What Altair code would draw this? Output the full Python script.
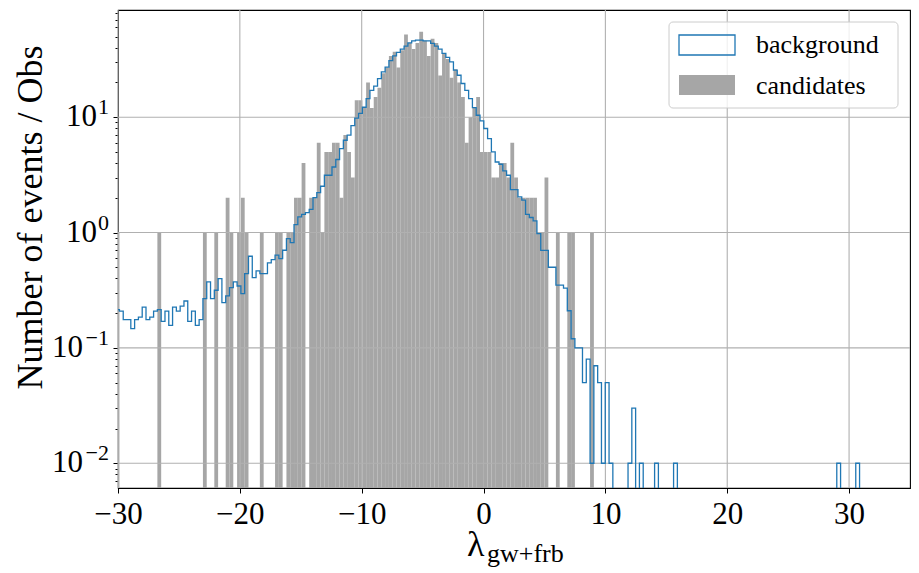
import altair as alt
import pandas as pd

# ---------------- data ----------------
BIN_START = -31.44      # left edge of the first histogram bin
BIN_WIDTH = 0.3115      # common bin width of both histograms

# background: events per observation, one value per bin (200 bins)
background = [
    0.19, 0.20, 0.21, 0.20, 0.215, 0.208, 0.176, 0.176, 0.147, 0.176,
    0.185, 0.226, 0.176, 0.185, 0.208, 0.215, 0.170, 0.208, 0.157, 0.226,
    0.208, 0.23, 0.255, 0.170, 0.208, 0.157, 0.176, 0.267, 0.373, 0.267,
    0.316, 0.399, 0.247, 0.282, 0.333, 0.373, 0.344, 0.296, 0.441, 0.623,
    0.407, 0.465, 0.441, 0.441, 0.545, 0.583, 0.636, 0.595, 0.702, 0.887,
    0.819, 1.17, 1.365, 1.44, 1.49, 1.59, 2.01, 2.22, 2.52, 3.14,
    3.14, 3.7, 4.3, 5.35, 6.31, 6.98, 8.45, 9.8, 10.8, 12.2,
    14.5, 17.1, 18.6, 21.6, 24.7, 27.2, 31.0, 34.0, 36.5, 38.9,
    41.3, 44.1, 45.9, 46.5, 46.5, 45.9, 45.9, 43.6, 41.3, 38.9,
    35.7, 33.0, 30.2, 25.6, 23.1, 19.6, 17.1, 14.5, 12.1, 10.4,
    9.29, 7.98, 6.53, 5.0, 4.09, 3.91, 3.42, 3.14, 2.36, 2.36,
    2.04, 1.91, 1.44, 1.35, 1.26, 0.98, 0.70, 0.70, 0.50, 0.50,
    0.35, 0.35, 0.33, 0.21, 0.12, 0.10, 0.10, 0.05, 0.08, 0.01,
    0.07, 0.05, 0.01, 0.05, 0.01, 0, 0, 0, 0, 0.01,
    0.03, 0, 0.01, 0, 0, 0, 0.01, 0, 0, 0,
    0, 0.01, 0, 0, 0, 0, 0, 0, 0, 0,
    0, 0, 0, 0, 0, 0, 0, 0, 0, 0,
    0, 0, 0, 0, 0, 0, 0, 0, 0, 0,
    0, 0, 0, 0, 0, 0, 0, 0, 0, 0,
    0, 0, 0, 0, 0.01, 0, 0, 0, 0, 0.01,
]

# candidates: counts per bin (same 200 bins)
candidates = [
    0, 0, 0, 0, 1, 0, 0, 0, 0, 0,
    0, 0, 0, 0, 0, 1, 0, 0, 0, 0,
    0, 0, 0, 0, 0, 0, 0, 1, 0, 0,
    1, 0, 0, 2, 1, 0, 1, 2, 1, 0,
    0, 0, 1, 0, 0, 0, 1, 1, 0, 1,
    1, 2, 2, 4, 0, 2, 2, 6, 1, 5,
    5, 6, 6, 2, 7, 5, 3, 14, 14, 12,
    20, 12, 15, 18, 24, 27, 34, 37, 27, 38,
    52, 44, 39, 44, 55, 46, 34, 48, 44, 23,
    36, 32, 22, 26, 20, 15, 6, 10, 12, 15,
    5, 5, 5, 3, 3, 4, 4, 3, 6, 3,
    2, 2, 2, 2, 2, 1, 1, 3, 0, 0,
    1, 0, 0, 1, 1, 0, 0, 0, 0, 1,
    0, 0, 0, 0, 0, 0, 0, 0, 0, 0,
    0, 0, 0, 0, 0, 0, 0, 0, 0, 0,
    0, 0, 0, 0, 0, 0, 0, 0, 0, 0,
    0, 0, 0, 0, 0, 0, 0, 0, 0, 0,
    0, 0, 0, 0, 0, 0, 0, 0, 0, 0,
    0, 0, 0, 0, 0, 0, 0, 0, 0, 0,
    0, 0, 0, 0, 0, 0, 0, 0, 0, 0,
]

x_ticks = [-30, -20, -10, 0, 10, 20, 30]
x_labels = ["\u221230", "\u221220", "\u221210", "0", "10", "20", "30"]
y_major = [0.01, 0.1, 1, 10]
y_exponents = ["\u22122", "\u22121", "0", "1"]
legend_labels = ["background", "candidates"]
X_DOMAIN = [-30, 35]
Y_DOMAIN = [0.0061, 85]

# ---------------- derived tables ----------------
FLOOR = 1e-4  # empty bins fall below the visible log range
n = len(background)
edges = [BIN_START + i * BIN_WIDTH for i in range(n + 1)]

bars = pd.DataFrame([
    {"x": edges[i], "x2": edges[i + 1], "count": c, "base": 1e-3}
    for i, c in enumerate(candidates) if c > 0
])

pts = [{"x": edges[0], "v": FLOOR, "o": 0}]
for i, v in enumerate(background):
    pts.append({"x": edges[i], "v": v if v > 0 else FLOOR, "o": i + 1})
last = background[-1] if background[-1] > 0 else FLOOR
pts.append({"x": edges[n], "v": last, "o": n + 1})
pts.append({"x": edges[n], "v": FLOOR, "o": n + 2})
step = pd.DataFrame(pts)

minor = sorted({round(m * 10.0 ** e, 6) for e in range(-3, 2) for m in range(2, 10)})
minor = [v for v in minor if Y_DOMAIN[0] <= v <= Y_DOMAIN[1]]
y_values = sorted(y_major + minor)

FONT = "Liberation Serif"
GRID = "#b0b0b0"
BLUE = "#1f77b4"
GRAY = "#a6a6a6"
LABEL_SIZE = 31
EXP_SIZE = 22

label_expr_x = " : ".join(
    f"datum.value == {v} ? '{t}'" for v, t in zip(x_ticks, x_labels)
) + " : ''"
is_major = "abs(log(datum.value)/LN10 - round(log(datum.value)/LN10)) < 1e-6"

xscale = alt.Scale(domain=X_DOMAIN, nice=False, zero=False)
yscale = alt.Scale(type="log", domain=Y_DOMAIN, nice=False)

x_axis = alt.Axis(values=x_ticks, labelExpr=label_expr_x, title=None, grid=False,
                  domain=False, tickColor="black", tickSize=5, tickWidth=1,
                  labelFont=FONT, labelFontSize=LABEL_SIZE, labelColor="black",
                  labelPadding=6, labelFlush=False)
y_axis = alt.Axis(values=y_values, labels=False,
                  title="Number of events / Obs", grid=False, domain=False,
                  tickColor="black", tickWidth=1,
                  tickSize={"condition": {"test": is_major, "value": 5}, "value": 3},
                  titleFont=FONT, titleFontSize=36, titleFontWeight="normal",
                  titleColor="black", titleX=-77, titleY=207,
                  titleBaseline="alphabetic", titleAlign="center")

bar_layer = alt.Chart(bars).mark_rect(color=GRAY, clip=True).encode(
    x=alt.X("x:Q", scale=xscale, axis=x_axis),
    x2="x2:Q",
    y=alt.Y("count:Q", scale=yscale, axis=y_axis),
    y2="base:Q",
)

vgrid = alt.Chart(pd.DataFrame({"x": x_ticks})).mark_rule(
    color=GRID, strokeWidth=1.1).encode(x=alt.X("x:Q", scale=xscale))
hgrid = alt.Chart(pd.DataFrame({"y": y_major})).mark_rule(
    color=GRID, strokeWidth=1.1).encode(y=alt.Y("y:Q", scale=yscale))

line_layer = alt.Chart(step).mark_line(
    color=BLUE, strokeWidth=1.3, interpolate="step-after", clip=True
).encode(
    x=alt.X("x:Q", scale=xscale),
    y=alt.Y("v:Q", scale=yscale),
    order="o:Q",
)

# y tick labels as "10" + raised exponent (like matplotlib's 10^k)
ylab = pd.DataFrame({"y": y_major, "exp": y_exponents})
ylab["shift"] = [-10 - 11 * len(e) - (3 if e.startswith("\u2212") else 0) for e in y_exponents]
ylab_base = alt.Chart(ylab).transform_calculate(ten="'10'")
y_ten = ylab_base.mark_text(
    font=FONT, fontSize=LABEL_SIZE, align="right", baseline="middle", color="black"
).encode(y=alt.Y("y:Q", scale=yscale), x=alt.X("shift:Q", scale=None), text="ten:N")
y_exp = ylab_base.mark_text(
    font=FONT, fontSize=EXP_SIZE, align="right", baseline="middle", color="black",
    dy=-10
).encode(y=alt.Y("y:Q", scale=yscale), x=alt.value(-9), text="exp:N")

one = pd.DataFrame({"a": [0]})
leg_frame = alt.Chart(one).mark_rect(
    fill="white", fillOpacity=0.8, stroke="#cccccc", strokeWidth=1, cornerRadius=4
).encode(x=alt.value(551), x2=alt.value(780), y=alt.value(12), y2=alt.value(98))
leg_bg = alt.Chart(one).mark_rect(
    fill="white", fillOpacity=0, stroke=BLUE, strokeWidth=1.3
).encode(x=alt.value(561), x2=alt.value(617), y=alt.value(25), y2=alt.value(45))
leg_cand = alt.Chart(one).mark_rect(fill=GRAY).encode(
    x=alt.value(561), x2=alt.value(617), y=alt.value(65), y2=alt.value(85))
leg_t1 = alt.Chart(one).mark_text(
    text=legend_labels[0], font=FONT, fontSize=26, align="left", baseline="middle",
    color="black").encode(x=alt.value(638), y=alt.value(35))
leg_t2 = alt.Chart(one).mark_text(
    text=legend_labels[1], font=FONT, fontSize=26, align="left", baseline="middle",
    color="black").encode(x=alt.value(638), y=alt.value(76))

xt_main = alt.Chart(one).mark_text(
    text="\u03bb", font=FONT, fontSize=36, align="left", baseline="alphabetic",
    color="black").encode(x=alt.value(349), y=alt.value(546))
xt_sub = alt.Chart(one).mark_text(
    text="gw+frb", font=FONT, fontSize=26, align="left", baseline="alphabetic",
    color="black").encode(x=alt.value(369), y=alt.value(552))

chart = alt.layer(
    bar_layer, vgrid, hgrid, line_layer, y_ten, y_exp,
    leg_frame, leg_bg, leg_cand, leg_t1, leg_t2, xt_main, xt_sub,
).properties(
    width=792, height=478,
    padding={"left": 110, "top": 2, "right": 1, "bottom": 82},
    autosize=alt.AutoSizeParams(type="none"),
).configure_view(stroke="black", strokeWidth=1.1)

chart.save("out.html", embed_options={"renderer": "svg", "actions": False})
